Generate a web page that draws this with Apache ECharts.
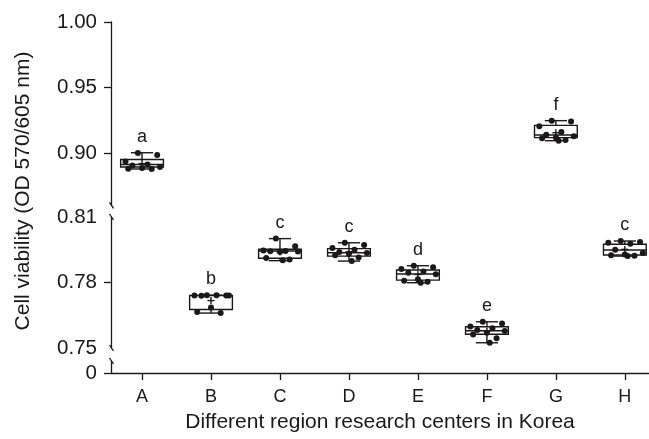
<!DOCTYPE html>
<html>
<head>
<meta charset="utf-8">
<script src="https://cdn.jsdelivr.net/npm/echarts@6/dist/echarts.min.js"></script>
<style>
  html, body { margin: 0; padding: 0; background: #fff; }
  #chart { width: 649px; height: 439px; }
</style>
</head>
<body>
<div id="chart"></div>
<script>
// data
const categories = ['A', 'B', 'C', 'D', 'E', 'F', 'G', 'H'];
const groupLetters = ['a', 'b', 'c', 'c', 'd', 'e', 'f', 'c'];
const whiskerMin = [0.8878, 0.7660, 0.7900, 0.7898, 0.7799, 0.7524, 0.9094, 0.7921];
const boxQ1 = [0.8893, 0.7676, 0.7911, 0.7921, 0.7811, 0.7563, 0.9117, 0.7926];
const boxMedian = [0.8912, 0.7740, 0.7944, 0.7936, 0.7839, 0.7579, 0.9137, 0.7949];
const boxQ3 = [0.8950, 0.7741, 0.7952, 0.7955, 0.7857, 0.7597, 0.9211, 0.7975];
const whiskerMax = [0.9002, 0.7742, 0.8001, 0.7982, 0.7877, 0.7620, 0.9247, 0.7990];
const ptsA = [0.9000, 0.8985, 0.8935, 0.8912, 0.8905, 0.8893, 0.8885, 0.8880, 0.8878];
const ptsB = [0.7742, 0.7741, 0.7740, 0.7742, 0.7739, 0.7740, 0.7685, 0.7665, 0.7660];
const ptsC = [0.8001, 0.7966, 0.7946, 0.7944, 0.7943, 0.7942, 0.7940, 0.7912, 0.7905, 0.7902];
const ptsD = [0.7982, 0.7972, 0.7958, 0.7950, 0.7940, 0.7935, 0.7932, 0.7925, 0.7915, 0.7898];
const ptsE = [0.7877, 0.7870, 0.7862, 0.7850, 0.7845, 0.7838, 0.7815, 0.7808, 0.7803, 0.7799];
const ptsF = [0.7620, 0.7612, 0.7598, 0.7590, 0.7582, 0.7578, 0.7570, 0.7562, 0.7545, 0.7524];
const ptsG = [0.9247, 0.9240, 0.9205, 0.9160, 0.9140, 0.9128, 0.9118, 0.9112, 0.9100, 0.9094];
const ptsH = [0.7990, 0.7985, 0.7982, 0.7978, 0.7950, 0.7935, 0.7928, 0.7925, 0.7923, 0.7921];
const topTicks = [0.90, 0.95, 1.00];
const midTicks = [0.75, 0.78, 0.81];
const groupPoints = [ptsA, ptsB, ptsC, ptsD, ptsE, ptsF, ptsG, ptsH];

const INK = '#1a1818';
const FONT = 'Liberation Sans, Arial, Helvetica, sans-serif';
const AX = 111;
// fixed spread of the dots inside each box
const jitter = [-0.06, 0.22, -0.24, 0.08, -0.14, 0.26, 0.0, -0.2, 0.14, 0.04];

const grids = [
  { left: AX, right: 0, top: 22, height: 183.4 },   // 0.86 - 1.00
  { left: AX, right: 0, top: 217, height: 131 },    // 0.75 - 0.81
  { left: AX, right: 0, top: 361, height: 12 }      // 0
];

function segOf(i) { return whiskerMax[i] > 0.86 ? 0 : 1; }
function mean(arr) { return arr.reduce((a, b) => a + b, 0) / arr.length; }

const xAxes = [0, 1, 2].map(g => ({
  type: 'value', gridIndex: g, min: -0.45, max: 7.35,
  show: g === 2,
  splitLine: { show: false },
  axisLine: { show: true, onZero: false, lineStyle: { color: INK, width: 1.3 } },
  axisTick: { show: true, customValues: [0, 1, 2, 3, 4, 5, 6, 7], length: 7, lineStyle: { color: INK, width: 1.3 } },
  axisLabel: {
    customValues: [0, 1, 2, 3, 4, 5, 6, 7],
    formatter: v => categories[Math.round(v)],
    color: INK, fontSize: 18, fontFamily: FONT, margin: 15
  },
  name: g === 2 ? 'Different region research centers in Korea' : '',
  nameLocation: 'middle', nameGap: 39,
  nameTextStyle: { color: INK, fontSize: 21, fontFamily: FONT }
}));

function yAxis(g, min, max, ticks, labels, fmt) {
  return {
    type: 'value', gridIndex: g, min: min, max: max,
    splitLine: { show: false },
    axisLine: { show: true, onZero: false, lineStyle: { color: INK, width: 1.3 } },
    axisTick: { show: true, customValues: ticks, length: 7, lineStyle: { color: INK, width: 1.3 } },
    axisLabel: { customValues: labels, formatter: fmt, color: INK, fontSize: 20.5, fontFamily: FONT, margin: 14 }
  };
}

const yAxes = [
  yAxis(0, 0.86, 1.0, topTicks, topTicks, v => v.toFixed(2)),
  yAxis(1, 0.75, 0.81, [0.78], midTicks, v => v.toFixed(2)),
  yAxis(2, 0, 1, [0], [0], () => '0')
];

const series = [];
[0, 1].forEach(s => {
  const idx = categories.map((c, i) => i).filter(i => segOf(i) === s);
  series.push({
    type: 'custom', xAxisIndex: s, yAxisIndex: s, z: 2,
    data: idx.map(i => [i, whiskerMin[i], boxQ1[i], boxMedian[i], boxQ3[i], whiskerMax[i], mean(groupPoints[i])]),
    encode: { x: 0, y: [1, 2, 3, 4, 5] },
    renderItem: function (params, api) {
      const x = api.value(0);
      const unit = api.size([1, 0])[0];
      const half = unit * 0.31, cap = half * 0.52;
      const p = [1, 2, 3, 4, 5, 6].map(k => api.coord([x, api.value(k)]));
      const cx = p[0][0];
      const st = { stroke: INK, lineWidth: 1.4, fill: null };
      const line = (x1, y1, x2, y2) => ({ type: 'line', shape: { x1, y1, x2, y2 }, style: st });
      return {
        type: 'group',
        children: [
          { type: 'rect', shape: { x: cx - half, y: p[3][1], width: half * 2, height: p[1][1] - p[3][1] },
            style: { fill: '#fff', stroke: INK, lineWidth: 1.4 } },
          line(cx - half, p[2][1], cx + half, p[2][1]),
          line(cx, p[3][1], cx, p[4][1]),
          line(cx - cap, p[4][1], cx + cap, p[4][1]),
          line(cx, p[1][1], cx, p[0][1]),
          line(cx - cap, p[0][1], cx + cap, p[0][1]),
          line(cx - 3.5, p[5][1], cx + 3.5, p[5][1]),
          line(cx, p[5][1] - 3.5, cx, p[5][1] + 3.5)
        ]
      };
    }
  });
  const dots = [];
  idx.forEach(i => groupPoints[i].forEach((v, k) => dots.push([i + jitter[k % jitter.length], v])));
  series.push({
    type: 'scatter', xAxisIndex: s, yAxisIndex: s, z: 3,
    data: dots, symbol: 'circle', symbolSize: 6,
    itemStyle: { color: INK, opacity: 1 }, silent: true
  });
  series.push({
    type: 'scatter', xAxisIndex: s, yAxisIndex: s, z: 4,
    data: idx.map(i => [i, whiskerMax[i]]), symbolSize: 0,
    itemStyle: { opacity: 1 },
    label: {
      show: true, position: 'top', distance: 7,
      formatter: p => groupLetters[p.data[0]],
      color: INK, fontSize: 18, fontFamily: FONT
    }
  });
});

// axis break marks
const breakYs = [22 + 183.4, 217, 348, 361];
const breakMarks = breakYs.map(y => ({
  type: 'line', shape: { x1: AX - 1.5, y1: y - 3, x2: AX + 2.5, y2: y + 3 },
  style: { stroke: INK, lineWidth: 1.3 }
}));

const chart = echarts.init(document.getElementById('chart'), null, { renderer: 'canvas' });
chart.setOption({
  animation: false,
  backgroundColor: '#fff',
  grid: grids,
  xAxis: xAxes,
  yAxis: yAxes,
  series: series,
  graphic: breakMarks.concat([{
    type: 'text', x: 23, y: 191, rotation: Math.PI / 2,
    style: {
      text: 'Cell viability (OD 570/605 nm)', fill: INK, fontSize: 21, fontFamily: FONT,
      align: 'center', verticalAlign: 'middle'
    }
  }])
});
</script>
</body>
</html>
